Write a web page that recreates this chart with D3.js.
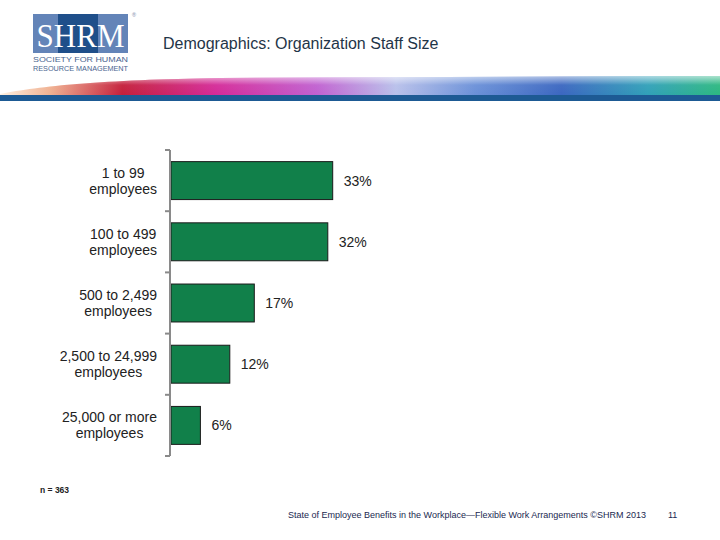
<!DOCTYPE html>
<html><head><meta charset="utf-8">
<script src="https://cdn.jsdelivr.net/npm/d3@7"></script>
<style>html,body{margin:0;padding:0;background:#fff;}svg{display:block;font-family:"Liberation Sans",Arial,sans-serif;}</style>
</head><body>
<script>
const categories = ["1 to 99|employees","100 to 499|employees","500 to 2,499|employees","2,500 to 24,999|employees","25,000 or more|employees"];
const values = [33, 32, 17, 12, 6];
const valueLabels = ["33%","32%","17%","12%","6%"];
const title = "Demographics: Organization Staff Size";
const note = "n = 363";
const footer = "State of Employee Benefits in the Workplace\u2014Flexible Work Arrangements \u00A9SHRM 2013";
const pageNum = "11";

const W = 720, H = 540;
const svg = d3.select("body").append("svg").attr("width", W).attr("height", H);
const defs = svg.append("defs");

// header swoosh
const g1 = defs.append("linearGradient").attr("id","sw").attr("x1","0").attr("x2","1");
[[0,"#fff0e0"],[0.07,"#f0b090"],[0.17,"#c41e3a"],[0.3,"#d42a98"],[0.44,"#c060d0"],[0.55,"#b8c0ea"],[0.66,"#6a90d8"],[0.78,"#3a66c0"],[0.9,"#30a0b8"],[1,"#2cb880"]]
  .forEach(([o,c])=>g1.append("stop").attr("offset",o).attr("stop-color",c));
const g2 = defs.append("linearGradient").attr("id","fade").attr("x1","0").attr("x2","0").attr("y1","0").attr("y2","1");
g2.append("stop").attr("offset",0).attr("stop-color","#fff").attr("stop-opacity",0.6);
g2.append("stop").attr("offset",0.45).attr("stop-color","#fff").attr("stop-opacity",0.05);
g2.append("stop").attr("offset",1).attr("stop-color","#fff").attr("stop-opacity",0);
const swPath = "M0,94 C40,86 100,80 220,78 L720,76 L720,96 L0,96 Z";
svg.append("path").attr("d",swPath).attr("fill","url(#sw)");
svg.append("path").attr("d",swPath).attr("fill","url(#fade)");
svg.append("rect").attr("x",0).attr("y",95).attr("width",W).attr("height",6).attr("fill","#1d5a94");

// logo
const logo = svg.append("g");
logo.append("rect").attr("x",33).attr("y",14).attr("width",95).attr("height",39).attr("fill","#6384b8");
logo.append("rect").attr("x",58).attr("y",14).attr("width",40).attr("height",39).attr("fill","#1f4f8a");
logo.append("text").attr("x",80.5).attr("y",47).attr("text-anchor","middle").attr("font-family","'Liberation Serif',serif").attr("font-size",33).attr("fill","#fff").attr("textLength",88).attr("lengthAdjust","spacingAndGlyphs").text("SHRM");
logo.append("text").attr("x",132).attr("y",17).attr("font-size",5.5).attr("fill","#7a8aa8").text("\u00AE");
logo.append("text").attr("x",33).attr("y",62).attr("font-size",7.5).attr("fill","#4a6590").attr("textLength",95).attr("lengthAdjust","spacingAndGlyphs").text("SOCIETY FOR HUMAN");
logo.append("text").attr("x",33).attr("y",71).attr("font-size",7.5).attr("fill","#4a6590").attr("textLength",95).attr("lengthAdjust","spacingAndGlyphs").text("RESOURCE MANAGEMENT");

svg.append("text").attr("x",163).attr("y",49).attr("font-size",16).attr("fill","#1f3548").text(title);

// chart
const y = d3.scaleBand().domain(categories).range([150, 456]).paddingInner(0.38).paddingOuter(0.19);
const x = d3.scaleLinear().domain([0, 100]).range([171, 661]);

svg.append("g").selectAll("rect").data(values).join("rect")
  .attr("x", x(0)).attr("y",(d,i)=>y(categories[i]))
  .attr("width", d=>x(d)-x(0)).attr("height", y.bandwidth())
  .attr("fill","#11804a").attr("stroke","#1a1a1a").attr("stroke-width",1);

svg.append("g").selectAll("text").data(values).join("text")
  .attr("x", d=>x(d)+11).attr("y",(d,i)=>y(categories[i])+y.bandwidth()/2)
  .attr("dy","0.36em").attr("font-size",14).attr("fill","#222").text((d,i)=>valueLabels[i]);

// axis
const ax = svg.append("g").attr("stroke","#8a8a8a").attr("stroke-width",2);
ax.append("line").attr("x1",170).attr("x2",170).attr("y1",150).attr("y2",456);
const bounds = categories.map(c=>y(c)-y.step()*y.paddingInner()/2).concat([456]);
ax.selectAll("line.t").data(bounds).join("line").attr("class","t")
  .attr("x1",165).attr("x2",170).attr("y1",d=>d).attr("y2",d=>d);

const lab = svg.append("g").selectAll("text").data(categories).join("text")
  .attr("text-anchor","middle").attr("font-size",14).attr("fill","#222");
lab.each(function(c){
  const parts = c.split("|");
  const cy = y(c)+y.bandwidth()/2;
  const t = d3.select(this);
  const spans = parts.map((p,k)=>t.append("tspan").attr("y",cy-3+k*16).text(p));
  const wmax = d3.max(spans, s=>s.node().getComputedTextLength());
  spans.forEach(s=>s.attr("x",157 - wmax/2));
});

svg.append("text").attr("x",40).attr("y",493).attr("font-size",8.5).attr("font-weight","bold").attr("fill","#222").text(note);
svg.append("text").attr("x",288).attr("y",518).attr("font-size",9).attr("fill","#1a2850").text(footer);
svg.append("text").attr("x",668).attr("y",518).attr("font-size",9).attr("fill","#1a2850").text(pageNum);
</script>
</body></html>
